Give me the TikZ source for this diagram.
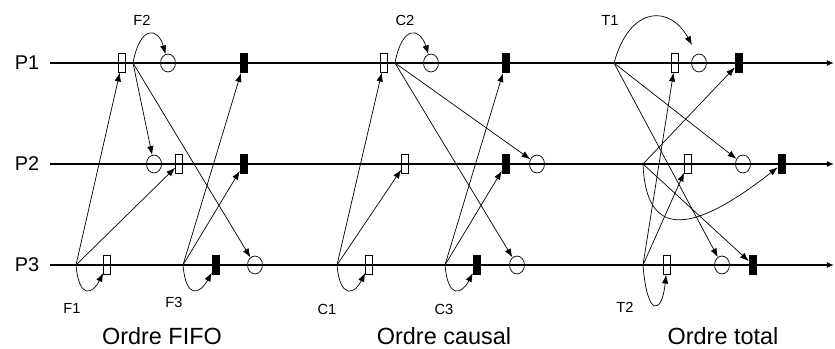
\documentclass[tikz,border=0pt]{standalone}
\usepackage{fontspec}
\setmainfont{Liberation Sans}
\usetikzlibrary{arrows.meta,shapes.geometric}

\begin{document}
\begin{tikzpicture}[x=0.03cm,y=-0.03cm,
    proc/.style={line width=1.6pt,-{Latex[length=6pt,width=5pt]}},
    msg/.style={line width=0.6pt,-{Latex[length=7.5pt,width=5.5pt]}},
    wbox/.style={draw,line width=0.6pt,minimum width=6pt,minimum height=16pt,inner sep=0pt},
    bbox/.style={fill=black,minimum width=6.8pt,minimum height=17pt,inner sep=0pt},
    recv/.style={ellipse,draw,line width=0.6pt,minimum width=12.8pt,minimum height=15.3pt,inner sep=0pt},
    pname/.style={font=\fontsize{17}{20}\selectfont},
    mname/.style={font=\fontsize{12.5}{15}\selectfont},
    title/.style={font=\fontsize{20}{24}\selectfont}]
\useasboundingbox (0,0) rectangle (835,349);

% processus
\node[pname] (p1) at (27,63) {P1};
\node[pname] (p2) at (27,164) {P2};
\node[pname] (p3) at (27,265) {P3};
\coordinate (l1) at (50,63);  \coordinate (r1) at (834,63);
\coordinate (l2) at (50,164); \coordinate (r2) at (834,164);
\coordinate (l3) at (50,265); \coordinate (r3) at (834,265);
\draw[proc] (l1) -- (r1);
\draw[proc] (l2) -- (r2);
\draw[proc] (l3) -- (r3);

% ordre FIFO
\coordinate (f1) at (76,265);
\coordinate (f2) at (133,63);
\coordinate (f3) at (183,265);
\node[wbox] (fw1) at (122,63) {};
\node[recv] (fc1) at (168,63) {};
\node[bbox] (fb1) at (244,63) {};
\node[recv] (fc2) at (154,164) {};
\node[wbox] (fw2) at (179,164) {};
\node[bbox] (fb2) at (244,164) {};
\node[wbox] (fw3) at (107,265) {};
\node[bbox] (fb3) at (216,265) {};
\node[recv] (fc3) at (255,265) {};

\draw[msg] (f1) -- (fw1);
\draw[msg] (f1) -- (fw2);
\draw[msg] (f1) .. controls (79,300) and (93,294) .. (fw3);
\draw[msg] (f2) .. controls (140,25) and (158,27) .. (fc1);
\draw[msg] (f2) -- (fc2);
\draw[msg] (f2) -- (fc3);
\draw[msg] (f3) -- (fb1);
\draw[msg] (f3) -- (fb2);
\draw[msg] (f3) .. controls (186,300) and (200,294) .. (fb3);

\node[mname] (nf1) at (72,308) {F1};
\node[mname] (nf2) at (142,20) {F2};
\node[mname] (nf3) at (174,302) {F3};
\node[title] (tf) at (162,336.5) {Ordre FIFO};

% ordre causal
\coordinate (c1) at (337,265);
\coordinate (c2) at (395,63);
\coordinate (c3) at (445,265);
\node[wbox] (cw1) at (384,63) {};
\node[recv] (cc1) at (431,63) {};
\node[bbox] (cb1) at (506,63) {};
\node[wbox] (cw2) at (405,164) {};
\node[bbox] (cb2) at (506,164) {};
\node[recv] (cc2) at (537,164) {};
\node[wbox] (cw3) at (369,265) {};
\node[bbox] (cb3) at (477,265) {};
\node[recv] (cc3) at (517,265) {};

\draw[msg] (c1) -- (cw1);
\draw[msg] (c1) -- (cw2);
\draw[msg] (c1) .. controls (340,300) and (355,294) .. (cw3);
\draw[msg] (c2) .. controls (402,25) and (420,27) .. (cc1);
\draw[msg] (c2) -- (cc2);
\draw[msg] (c2) -- (cc3);
\draw[msg] (c3) -- (cb1);
\draw[msg] (c3) -- (cb2);
\draw[msg] (c3) .. controls (448,300) and (462,294) .. (cb3);

\node[mname] (nc1) at (327,309) {C1};
\node[mname] (nc2) at (405,20) {C2};
\node[mname] (nc3) at (444,309) {C3};
\node[title] (tc) at (444,336.5) {Ordre causal};

% ordre total
\coordinate (t1) at (614,63);
\coordinate (s) at (643,164);
\coordinate (t2) at (643,265);
\coordinate (te) at (692,45);
\node[wbox] (tw1) at (675,63) {};
\node[recv] (tc1) at (699,63) {};
\node[bbox] (tb1) at (739,63) {};
\node[wbox] (tw2) at (688,164) {};
\node[recv] (tc2) at (743,164) {};
\node[bbox] (tb2) at (782,164) {};
\node[wbox] (tw3) at (667,265) {};
\node[recv] (tc3) at (722,265) {};
\node[bbox] (tb3) at (753,265) {};

\draw[msg] (t1) .. controls (630,5) and (670,5) .. (te);
\draw[msg] (t1) -- (tc2);
\draw[msg] (t1) -- (tc3);
\draw[msg] (s) -- (tb1);
\draw[msg] (s) -- (tb3);
\draw[msg] (s) .. controls (646,238) and (690,236) .. (tb2);
\draw[msg] (t2) -- (tw1);
\draw[msg] (t2) -- (tw2);
\draw[msg] (t2) .. controls (647,318) and (662,315) .. (tw3);

\node[mname] (nt1) at (610,20) {T1};
\node[mname] (nt2) at (625,307) {T2};
\node[title] (tt) at (723,336.5) {Ordre total};
\end{tikzpicture}
\end{document}
